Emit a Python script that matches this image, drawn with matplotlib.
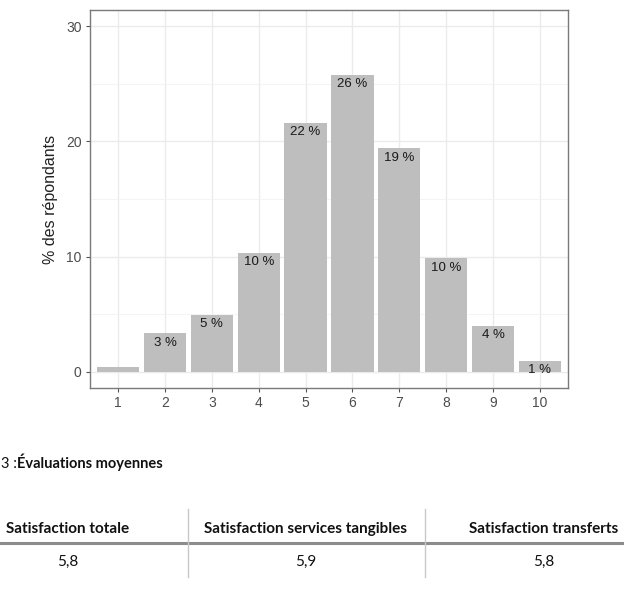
import matplotlib.pyplot as plt
from matplotlib.ticker import MultipleLocator

# distribution des notes (1 a 10), en % des repondants
notes = [1, 2, 3, 4, 5, 6, 7, 8, 9, 10]
pct = [0.4, 3.35, 4.95, 10.35, 21.6, 25.8, 19.4, 9.85, 4.0, 0.95]
pct_labels = ['', '3 %', '5 %', '10 %', '22 %', '26 %', '19 %', '10 %', '4 %', '1 %']

# tableau des evaluations moyennes
table_headers = ['Satisfaction totale', 'Satisfaction services tangibles', 'Satisfaction transferts']
table_values = ['5,8', '5,9', '5,8']

W, H = 624, 589
fig = plt.figure(figsize=(W / 100, H / 100), dpi=100)
ax = fig.add_axes([90 / W, 1 - 388 / H, (568 - 90) / W, (388 - 10) / H])

ax.bar(notes, pct, width=0.9, color='#bebebe', zorder=2)
for x, y, lab in zip(notes, pct, pct_labels):
    if lab:
        ax.annotate(lab, (x, y), xytext=(0, -2.5), textcoords='offset points',
                    ha='center', va='top', fontsize=9.5, color='#1a1a1a',
                    family='Liberation Sans', zorder=3)

ax.set_xlim(0.4, 10.6)
ax.set_ylim(-1.4, 31.4)
ax.set_xticks(notes)
ax.yaxis.set_major_locator(MultipleLocator(10))
ax.yaxis.set_minor_locator(MultipleLocator(5))
ax.grid(which='major', color='#ebebeb', linewidth=1.0, zorder=0)
ax.grid(which='minor', axis='y', color='#f3f3f3', linewidth=0.6, zorder=0)
ax.set_axisbelow(True)
for s in ax.spines.values():
    s.set_color('#7a7a7a')
    s.set_linewidth(1.0)
ax.tick_params(which='major', length=3, color='#555555', labelsize=10,
               labelcolor='#4d4d4d', pad=3)
ax.tick_params(which='minor', length=0)
for t in ax.get_xticklabels() + ax.get_yticklabels():
    t.set_family('Liberation Sans')
ax.set_ylabel('% des répondants', fontsize=11.5, family='Liberation Sans',
              color='#222222', labelpad=6)

# titre du tableau
fig.text(1 / W, 1 - 468 / H, '3 :', ha='left', va='baseline', fontsize=10.5,
         family='Lato', color='#111111')
fig.text(17 / W, 1 - 468 / H, 'Évaluations moyennes', ha='left', va='baseline',
         fontsize=10.5, family='Lato', fontweight='bold', color='#111111')

# tableau
col_x = [68, 306, 544]
for cx, h, v in zip(col_x, table_headers, table_values):
    fig.text(cx / W, 1 - 529 / H, h, ha='center', va='center', fontsize=11,
             family='Lato', fontweight='bold', color='#111111')
    fig.text(cx / W, 1 - 562 / H, v, ha='center', va='center', fontsize=11,
             family='Lato', color='#111111')

fig.add_artist(plt.Line2D([0, 1], [1 - 543 / H, 1 - 543 / H], color='#8c8c8c',
                          linewidth=2.2, transform=fig.transFigure))
for vx in [188, 425]:
    fig.add_artist(plt.Line2D([vx / W, vx / W], [1 - 509 / H, 1 - 577 / H],
                              color='#c8c8c8', linewidth=1.0,
                              transform=fig.transFigure))

fig.savefig('out.png', dpi=100)
